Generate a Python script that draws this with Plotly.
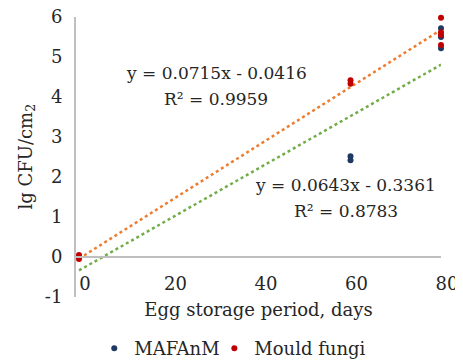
import plotly.graph_objects as go

# Data
mafanm_x = [0, 60, 60, 80, 80, 80]
mafanm_y = [0.0, 2.42, 2.52, 5.72, 5.5, 5.22]
mould_x = [0, 0, 60, 60, 80, 80, 80, 80]
mould_y = [0.05, -0.05, 4.33, 4.42, 5.98, 5.62, 5.55, 5.3]

trend_slope = [0.0643, 0.0715]
trend_intercept = [-0.3361, -0.0416]
trend_range = [0, 80]
eq_text = ["y = 0.0643x - 0.3361", "y = 0.0715x - 0.0416"]
r2_text = ["R² = 0.8783", "R² = 0.9959"]
eq_pos = [(59.0, 1.8), (30.3, 4.6)]
r2_pos = [(59.0, 1.15), (30.3, 3.95)]

x_ticks = [0, 20, 40, 60, 80]
x_ticktext = ["0", "20", "40", "60", "80"]
y_ticks = [-1, 0, 1, 2, 3, 4, 5, 6]
y_ticktext = ["-1", "0", "1", "2", "3", "4", "5", "6"]

FONT = "DejaVu Serif"
TXT = "#262626"

fig = go.Figure()

trend_colors = ["#70AD47", "#ED7D31"]
for i in range(2):
    xs = trend_range
    ys = [trend_slope[i] * x + trend_intercept[i] for x in xs]
    fig.add_trace(go.Scatter(x=xs, y=ys, mode="lines",
                             line=dict(color=trend_colors[i], width=2.5, dash="dot"),
                             showlegend=False, hoverinfo="skip", cliponaxis=False))

fig.add_trace(go.Scatter(x=mafanm_x, y=mafanm_y, mode="markers", name="MAFAnM",
                         marker=dict(color="#1F3864", size=6, line=dict(width=0)),
                         cliponaxis=False, legend="legend"))
fig.add_trace(go.Scatter(x=mould_x, y=mould_y, mode="markers", name="Mould fungi",
                         marker=dict(color="#C00000", size=6, line=dict(width=0)),
                         cliponaxis=False, legend="legend2"))

for i in range(2):
    fig.add_annotation(x=eq_pos[i][0], y=eq_pos[i][1], text=eq_text[i], showarrow=False,
                       xref="x", yref="y", font=dict(family=FONT, size=17, color=TXT))
    fig.add_annotation(x=r2_pos[i][0], y=r2_pos[i][1], text=r2_text[i], showarrow=False,
                       xref="x", yref="y", font=dict(family=FONT, size=17, color=TXT))

# y-axis title as rotated annotation
fig.add_annotation(x=-0.134, y=0.502, xref="paper", yref="paper", showarrow=False,
                   text="lg CFU/cm<sub>2</sub>", textangle=-90,
                   xanchor="center", yanchor="middle",
                   font=dict(family=FONT, size=18, color=TXT))

legend_style = dict(orientation="h", y=-0.118, xanchor="left", yanchor="top",
                    font=dict(family=FONT, size=18, color=TXT), itemwidth=30,
                    bgcolor="rgba(0,0,0,0)")

# page body has an 8px default margin: size the figure to compensate
fig.update_layout(
    width=455, height=352,
    margin=dict(l=68, r=22, t=9, b=63, autoexpand=False),
    paper_bgcolor="white", plot_bgcolor="white",
    font=dict(family=FONT, size=18, color=TXT),
    showlegend=True,
    legend=dict(x=0.05, **legend_style),
    legend2=dict(x=0.379, **legend_style),
    xaxis=dict(range=[-0.66, 80], tickvals=x_ticks, ticktext=x_ticktext,
               showgrid=False, zeroline=False, automargin=False,
               showline=True, linecolor="#BFBFBF", linewidth=2,
               anchor="free", position=1/7, ticks="", ticklabelshift=6,
               ticklabelstandoff=10, tickfont=dict(size=18),
               ticklabeloverflow="allow",
               title=dict(text="Egg storage period, days", standoff=10,
                          font=dict(family=FONT, size=18, color=TXT))),
    yaxis=dict(range=[-1, 6], tickvals=y_ticks, ticktext=y_ticktext,
               showgrid=False, zeroline=False, automargin=False,
               showline=True, linecolor="#BFBFBF", linewidth=2, ticks="",
               ticklabelstandoff=8, tickfont=dict(size=18),
               ticklabeloverflow="allow"),
)

fig.write_html("out.html")
